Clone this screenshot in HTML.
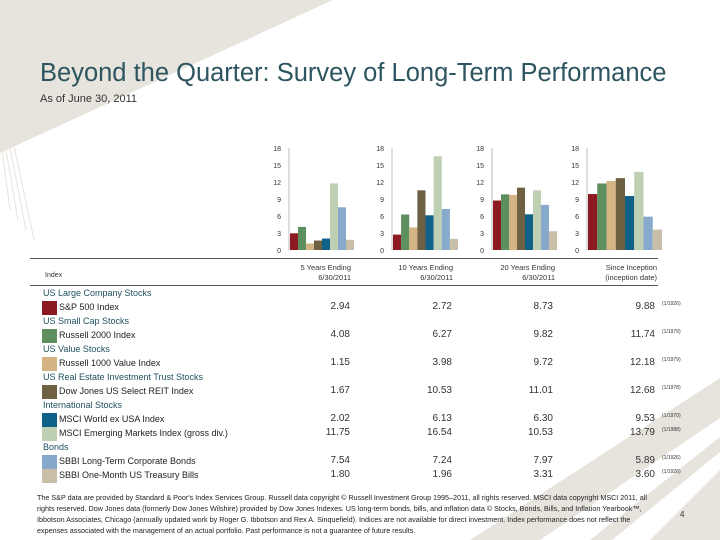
<!DOCTYPE html>
<html><head><meta charset="utf-8"><style>
body{margin:0;width:720px;height:540px;overflow:hidden;background:#fff;font-family:"Liberation Sans",sans-serif;position:relative}
.t{position:absolute;white-space:nowrap}
</style></head><body>
<svg width="720" height="540" style="position:absolute;left:0;top:0">
<polygon points="0,0 333,0 50,130 0,153" fill="#e7e4dd"/>
<g stroke="#e7e4dd" stroke-width="1"><line x1="2" y1="150" x2="10" y2="210"/><line x1="6" y1="150" x2="18" y2="220"/><line x1="10" y1="148" x2="26" y2="230"/><line x1="14" y1="146" x2="34" y2="240"/></g>
<polygon points="470,540 720,378 720,418 540,540" fill="#e7e4dd"/>
<polygon points="590,540 720,437 720,452 612,540" fill="#e7e4dd"/>
<polygon points="650,540 720,470 720,540" fill="#e7e4dd"/>
</svg>
<div class="t" style="left:40px;top:59px;font-size:25.5px;color:#2d5560">Beyond the Quarter: Survey of Long-Term Performance</div>
<div class="t" style="left:40px;top:93px;font-size:11px;color:#333">As of June 30, 2011</div>
<svg id="charts" width="720" height="540" style="position:absolute;left:0;top:0"></svg>
<div id="table"></div>
<div class="t" style="left:37px;top:492px;font-size:7.2px;line-height:11px;color:#222">The S&amp;P data are provided by Standard &amp; Poor's Index Services Group. Russell data copyright © Russell Investment Group 1995–2011, all rights reserved. MSCI data copyright MSCI 2011, all<br>rights reserved. Dow Jones data (formerly Dow Jones Wilshire) provided by Dow Jones Indexes. US long-term bonds, bills, and inflation data © Stocks, Bonds, Bills, and Inflation Yearbook™,<br>Ibbotson Associates, Chicago (annually updated work by Roger G. Ibbotson and Rex A. Sinquefield). Indices are not available for direct investment. Index performance does not reflect the<br>expenses associated with the management of an actual portfolio. Past performance is not a guarantee of future results.</div>
<div class="t" style="left:680px;top:510px;font-size:8px;color:#333">4</div>
<script>
const names=["S&P 500 Index","Russell 2000 Index","Russell 1000 Value Index","Dow Jones US Select REIT Index","MSCI World ex USA Index","MSCI Emerging Markets Index (gross div.)","SBBI Long-Term Corporate Bonds","SBBI One-Month US Treasury Bills"];
const groups=["US Large Company Stocks","US Small Cap Stocks","US Value Stocks","US Real Estate Investment Trust Stocks","International Stocks","","Bonds",""];
const colors=["#8b1a22","#5e8f5e","#d4b483","#6e6042","#0f6187","#bfcfb4","#87aacc","#c9bfa8"];
const periods=["5 Years Ending|6/30/2011","10 Years Ending|6/30/2011","20 Years Ending|6/30/2011","Since Inception|(inception date)"];
const r5=[2.94,4.08,1.15,1.67,2.02,11.75,7.54,1.80];
const r10=[2.72,6.27,3.98,10.53,6.13,16.54,7.24,1.96];
const r20=[8.73,9.82,9.72,11.01,6.30,10.53,7.97,3.31];
const rInc=[9.88,11.74,12.18,12.68,9.53,13.79,5.89,3.60];
const incDates=["(1/1926)","(1/1979)","(1/1979)","(1/1978)","(1/1970)","(1/1988)","(1/1926)","(1/1926)"];
const yTicks=[0,3,6,9,12,15,18];
const series=[r5,r10,r20,rInc];
const NS="http://www.w3.org/2000/svg";
const svg=document.getElementById('charts');
const axisX=[289,392,492,587], plotW=[64,65,64,74];
const y=v=>250-v*(102/18);
function mk(tag,attrs){const e=document.createElementNS(NS,tag);for(const k in attrs)e.setAttribute(k,attrs[k]);svg.appendChild(e);return e;}
series.forEach((s,c)=>{
  const ax=axisX[c];
  const a=mk('line',{x1:ax,x2:ax,y1:y(18),y2:y(0),stroke:'#bbb','stroke-width':1});
  
  
  yTicks.forEach(t=>{
    const tx=mk('text',{x:ax-8,y:y(t)+3,'font-size':7,fill:'#333','text-anchor':'end'});
    tx.textContent=t;
    
    
  });
  const bw=plotW[c]/s.length;
  s.forEach((v,i)=>{
    const r=mk('rect',{x:ax+1+i*bw,y:y(v),width:bw,height:y(0)-y(v),fill:colors[i]});
    
    
  });
});
const tb=document.getElementById('table');
function div(html,style,name){const d=document.createElement('div');d.className='t';d.innerHTML=html;d.style.cssText=style;tb.appendChild(d);return d;}
div('','left:30px;top:258px;width:628px;height:1px;background:#555','table-top-rule');
div('','left:30px;top:285px;width:628px;height:1px;background:#555','table-header-rule');
div('Index','left:45px;top:272px;font-size:7px;color:#333','index-header');
const colR=[351,453,555,657];
periods.forEach((p,c)=>{
  const parts=p.split('|');
  div(parts[0]+'<br>'+parts[1],'right:'+(720-colR[c])+'px;top:263px;font-size:7.5px;line-height:10px;text-align:right;color:#333','column-header');
});
const valR=[350,452,553,655];
let yy=288;
names.forEach((n,i)=>{
  if(groups[i]){div(groups[i],'left:43px;top:'+yy+'px;font-size:9px;color:#1f4f5f','group-label');yy+=14;}
  div('','left:42px;top:'+(yy-1)+'px;width:15px;height:14px;background:'+colors[i],'legend-swatch');
  div(n,'left:59px;top:'+yy+'px;font-size:9px;color:#222','index-name');
  series.forEach((s,c)=>{div(s[i].toFixed(2),'right:'+(720-valR[c])+'px;top:'+(yy-1)+'px;font-size:10px;color:#333;text-align:right','value-cell');});
  div(incDates[i],'left:662px;top:'+(yy-1)+'px;font-size:5px;color:#333','inception-date');
  yy+=14;
});
</script>
</body></html>
